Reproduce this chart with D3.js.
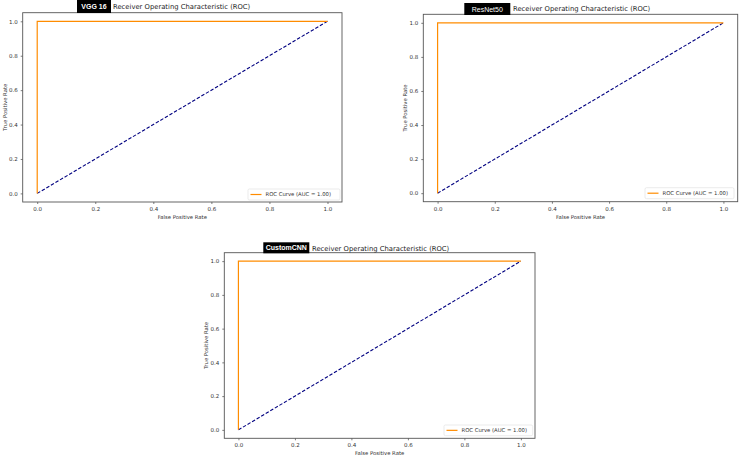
<!DOCTYPE html>
<html><head><meta charset="utf-8">
<script src="https://cdn.jsdelivr.net/npm/d3@7"></script>
<style>
html,body{margin:0;padding:0;background:#fff;}
svg{display:block;font-family:"DejaVu Sans",sans-serif;}
</style></head>
<body>
<svg id="c" width="740" height="456"></svg>
<script>
// Data
const models = ["VGG 16", "ResNet50", "CustomCNN"];
const rocFpr = [0, 0, 1];
const rocTpr = [0, 1, 1];
const diagX = [0, 1];
const diagY = [0, 1];
const aucValues = [1.00, 1.00, 1.00];
const tickValues = [0.0, 0.2, 0.4, 0.6, 0.8, 1.0];
const titleText = "Receiver Operating Characteristic (ROC)";
const xLabel = "False Positive Rate";
const yLabel = "True Positive Rate";

// Layout (pixel boxes of each axes)
const panels = [
  {x0: 22.7, x1: 342, y0: 12.7, y1: 202, tagX: 77, tagW: 34, tagY: 0, tagH: 13, titleX: 113, titleY: 9, bold: true,
   leg: {x: 248, y: 189, w: 92, h: 11}},
  {x0: 423.3, x1: 737.7, y0: 14.3, y1: 201.7, tagX: 464.3, tagW: 46, tagY: 3, tagH: 12, titleX: 513, titleY: 11, bold: false,
   leg: {x: 645, y: 187.7, w: 89, h: 11}},
  {x0: 224.3, x1: 535, y0: 252.7, y1: 438.3, tagX: 263.3, tagW: 46, tagY: 242.3, tagH: 11, titleX: 312, titleY: 250.5, bold: true,
   leg: {x: 444, y: 425, w: 88.7, h: 10.7}}
];

const svg = d3.select("#c");

panels.forEach((p, i) => {
  const x = d3.scaleLinear().domain([-0.05, 1.05]).range([p.x0, p.x1]);
  const y = d3.scaleLinear().domain([-0.05, 1.05]).range([p.y1, p.y0]);
  const g = svg.append("g");

  // axes
  const xa = g.append("g").attr("transform", `translate(0,${p.y1})`)
    .call(d3.axisBottom(x).tickValues(tickValues).tickFormat(d3.format(".1f")).tickSize(2).tickPadding(3));
  const ya = g.append("g").attr("transform", `translate(${p.x0},0)`)
    .call(d3.axisLeft(y).tickValues(tickValues).tickFormat(d3.format(".1f")).tickSize(2).tickPadding(3));
  [xa, ya].forEach(a => {
    a.select(".domain").remove();
    a.selectAll("line").attr("stroke", "#444").attr("stroke-width", 0.7);
    a.selectAll("text").attr("font-size", 5.5).attr("fill", "#333").attr("font-family", "DejaVu Sans");
  });

  // frame
  g.append("rect").attr("x", p.x0).attr("y", p.y0).attr("width", p.x1 - p.x0).attr("height", p.y1 - p.y0)
    .attr("fill", "none").attr("stroke", "#555").attr("stroke-width", 0.9);

  // diagonal
  const line = d3.line().x(d => x(d[0])).y(d => y(d[1]));
  g.append("path").datum(d3.zip(diagX, diagY)).attr("d", line)
    .attr("fill", "none").attr("stroke", "#000080").attr("stroke-width", 1.1).attr("stroke-dasharray", "3.5,1.8");
  // ROC curve
  g.append("path").datum(d3.zip(rocFpr, rocTpr)).attr("d", line)
    .attr("fill", "none").attr("stroke", "#ff8c00").attr("stroke-width", 1.2);

  // axis labels
  g.append("text").attr("x", (x(0) + x(1)) / 2).attr("y", p.y1 + 17).attr("text-anchor", "middle")
    .attr("font-size", 5.3).attr("fill", "#333").text(xLabel);
  g.append("text").attr("transform", `translate(${p.x0 - 16},${(p.y0 + p.y1) / 2}) rotate(-90)`)
    .attr("text-anchor", "middle").attr("font-size", 5.3).attr("fill", "#333").text(yLabel);

  // title tag + title
  g.append("rect").attr("x", p.tagX).attr("y", p.tagY).attr("width", p.tagW).attr("height", p.tagH).attr("fill", "#000");
  g.append("text").attr("x", p.tagX + p.tagW / 2).attr("y", p.tagY + p.tagH / 2 + 2.5).attr("text-anchor", "middle")
    .attr("fill", "#fff").attr("font-size", 7).attr("font-weight", p.bold ? "bold" : "normal")
    .attr("font-family", "Liberation Sans, Arial, sans-serif").text(models[i]);
  g.append("text").attr("x", p.titleX).attr("y", p.titleY).attr("font-size", 6.8).attr("fill", "#222").text(titleText);

  // legend
  const L = p.leg;
  g.append("rect").attr("x", L.x).attr("y", L.y).attr("width", L.w).attr("height", L.h)
    .attr("fill", "#fff").attr("stroke", "#ddd").attr("stroke-width", 0.6).attr("rx", 1.5);
  g.append("line").attr("x1", L.x + 2.5).attr("x2", L.x + 13.5).attr("y1", L.y + L.h / 2).attr("y2", L.y + L.h / 2)
    .attr("stroke", "#ff8c00").attr("stroke-width", 1.2);
  g.append("text").attr("x", L.x + 17.5).attr("y", L.y + L.h / 2 + 1.9).attr("font-size", 5.3).attr("fill", "#333")
    .text(`ROC Curve (AUC = ${aucValues[i].toFixed(2)})`);
});
</script>
</body></html>
